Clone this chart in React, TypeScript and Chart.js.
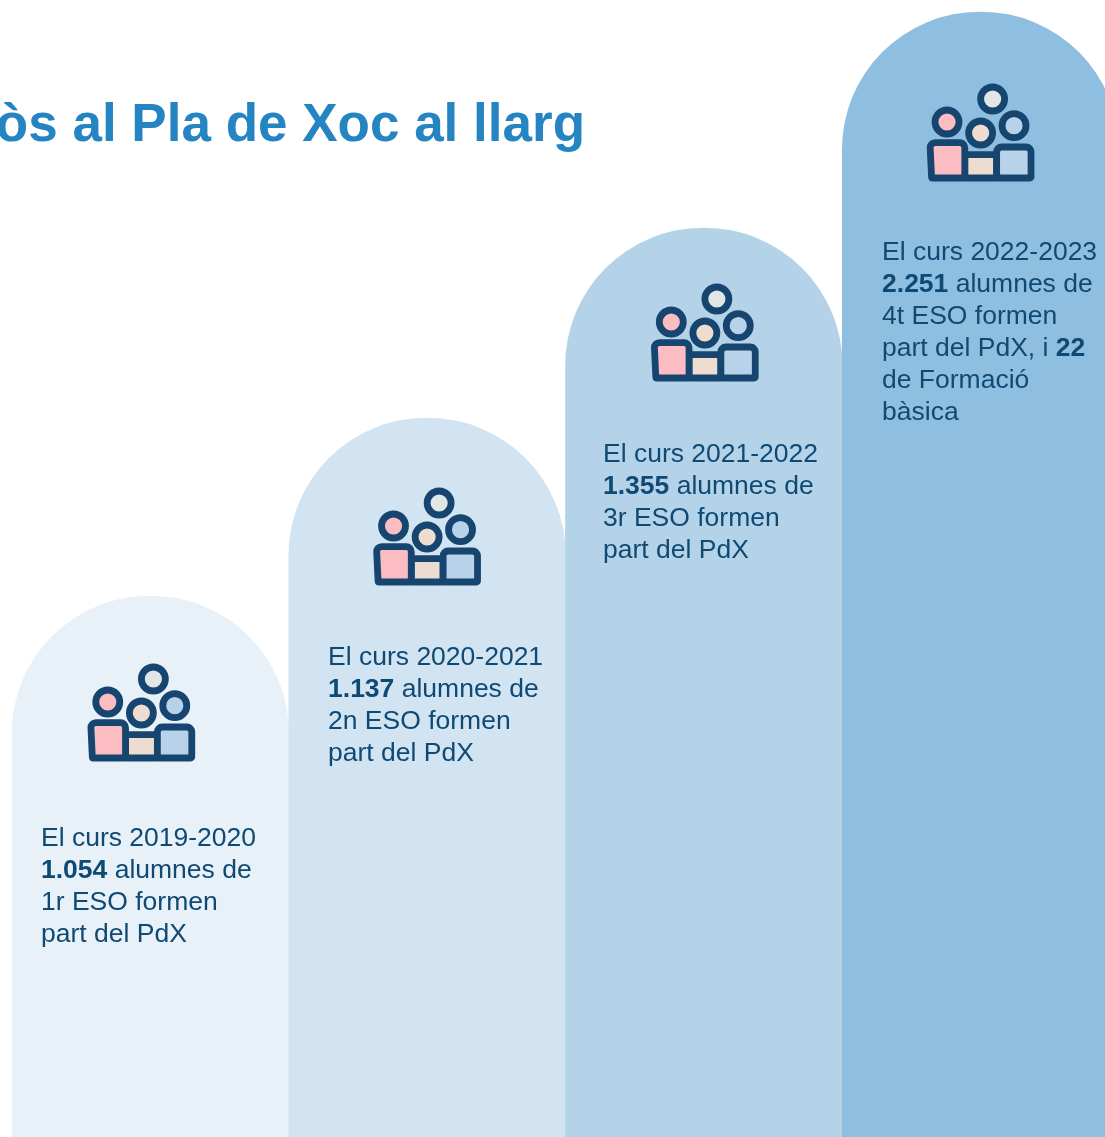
import React, { useEffect, useRef } from "react";
import { Chart, registerables } from "chart.js";

Chart.register(...registerables);

const categories = ["2019-2020", "2020-2021", "2021-2022", "2022-2023"];
const studentCounts = ["1.054", "1.137", "1.355", "2.251"];
const stepHeights = [541, 719, 909, 1125];
const courseLines = [
  ["1r ESO formen", "part del PdX"],
  ["2n ESO formen", "part del PdX"],
  ["3r ESO formen", "part del PdX"],
  ["4t ESO formen"],
];
const titleText = "òs al Pla de Xoc al llarg";

const barColors = ["#E8F0F8", "#D2E4F2", "#B4D3E9", "#8FBFE0"];
const TEXT = "#0F4A75";
const FONT = '"Liberation Sans", Arial, sans-serif';
const textOffsets = [
  { dx: -109.4, dy: 250 },
  { dx: -99.1, dy: 247 },
  { dx: -100.9, dy: 234 },
  { dx: -98.6, dy: 248 },
];
const iconOffsets = [
  { dx: -9, dy: 117 },
  { dx: 0, dy: 119 },
  { dx: 1, dy: 105 },
  { dx: 0, dy: 121 },
];

function drawIcon(ctx: CanvasRenderingContext2D, cx: number, cy: number) {
  const lw = 6.8;
  ctx.save();
  ctx.translate(cx, cy);
  ctx.strokeStyle = "#16456F";
  ctx.lineWidth = lw;
  ctx.lineJoin = "round";
  const body = (pts: number[][], radii: number[], fill: string) => {
    ctx.beginPath();
    const n = pts.length;
    const first = pts[0];
    const last = pts[n - 1];
    ctx.moveTo((first[0] + last[0]) / 2, (first[1] + last[1]) / 2);
    for (let i = 0; i < n; i++) {
      const p = pts[i];
      const q = pts[(i + 1) % n];
      ctx.arcTo(p[0], p[1], q[0], q[1], radii[i]);
    }
    ctx.closePath();
    ctx.fillStyle = fill;
    ctx.fill();
    ctx.stroke();
  };
  body([[-15.85, 21.7], [16, 21.7], [16, 45], [-15.85, 45]], [1, 1, 1, 1], "#EDDCCF");
  body([[-50.7, 9.6], [-15.85, 9.6], [-15.85, 45], [-49, 45]], [5, 5, 1, 1], "#FBBCC2");
  body([[16, 14], [50.4, 14], [50.4, 45], [16, 45]], [5, 5, 1, 1], "#B7D2E9");
  const head = (x: number, y: number, fill: string) => {
    ctx.beginPath();
    ctx.arc(x, y, 12, 0, Math.PI * 2);
    ctx.fillStyle = fill;
    ctx.fill();
    ctx.stroke();
  };
  head(12, -34, "#E2E6E6");
  head(-33.6, -11, "#FBBCC2");
  head(0, 0, "#EDDCCF");
  head(33.4, -7.3, "#B7D2E9");
  ctx.restore();
}

const overlay = {
  id: "overlay",
  afterDatasetsDraw(chart: any) {
    const ctx: CanvasRenderingContext2D = chart.ctx;
    const bars = chart.getDatasetMeta(0).data;
    ctx.save();
    ctx.textBaseline = "alphabetic";
    ctx.textAlign = "right";
    ctx.fillStyle = "#2585C2";
    ctx.font = `bold 53px ${FONT}`;
    ctx.fillText(titleText, 585, 141);
    ctx.textAlign = "left";
    bars.forEach((bar: any, i: number) => {
      drawIcon(ctx, bar.x + iconOffsets[i].dx, bar.y + iconOffsets[i].dy);
      const x = bar.x + textOffsets[i].dx;
      let y = bar.y + textOffsets[i].dy;
      const regular = `26.5px ${FONT}`;
      const bold = `bold 26.5px ${FONT}`;
      const lh = 32;
      ctx.fillStyle = TEXT;
      ctx.font = regular;
      ctx.fillText(`El curs ${categories[i]}`, x, y);
      y += lh;
      ctx.font = bold;
      ctx.fillText(studentCounts[i], x, y);
      const w = ctx.measureText(studentCounts[i]).width;
      ctx.font = regular;
      ctx.fillText(" alumnes de", x + w, y);
      y += lh;
      courseLines[i].forEach((line) => {
        ctx.fillText(line, x, y);
        y += lh;
      });
      if (i === 3) {
        const prefix = "part del PdX, i ";
        ctx.fillText(prefix, x, y);
        const pw = ctx.measureText(prefix).width;
        ctx.font = bold;
        ctx.fillText("22", x + pw, y);
        y += lh;
        ctx.font = regular;
        ctx.fillText("de Formació", x, y);
        y += lh;
        ctx.fillText("bàsica", x, y);
      }
    });
    ctx.restore();
  },
};

export default function App() {
  const ref = useRef<HTMLCanvasElement>(null);
  useEffect(() => {
    const chart = new Chart(ref.current!, {
      type: "bar",
      data: {
        labels: categories,
        datasets: [
          {
            data: stepHeights,
            backgroundColor: barColors,
            borderWidth: 0,
            borderSkipped: false,
            borderRadius: { topLeft: 138, topRight: 138, bottomLeft: 0, bottomRight: 0 },
            barPercentage: 1,
            categoryPercentage: 1,
          },
        ],
      },
      options: {
        animation: false,
        responsive: false,
        maintainAspectRatio: false,
        layout: { padding: { left: 12, right: 0, top: 0, bottom: 0 } },
        plugins: { legend: { display: false }, tooltip: { enabled: false } },
        scales: {
          x: { display: false },
          y: { display: false, min: 0, max: 1137 },
        },
      },
      plugins: [overlay],
    });
    return () => chart.destroy();
  }, []);
  return (
    <div style={{ position: "fixed", left: 0, top: 0, width: 1105, height: 1137, overflow: "hidden", background: "#fff" }}>
      <canvas ref={ref} width={1119} height={1137} style={{ display: "block" }} />
    </div>
  );
}
